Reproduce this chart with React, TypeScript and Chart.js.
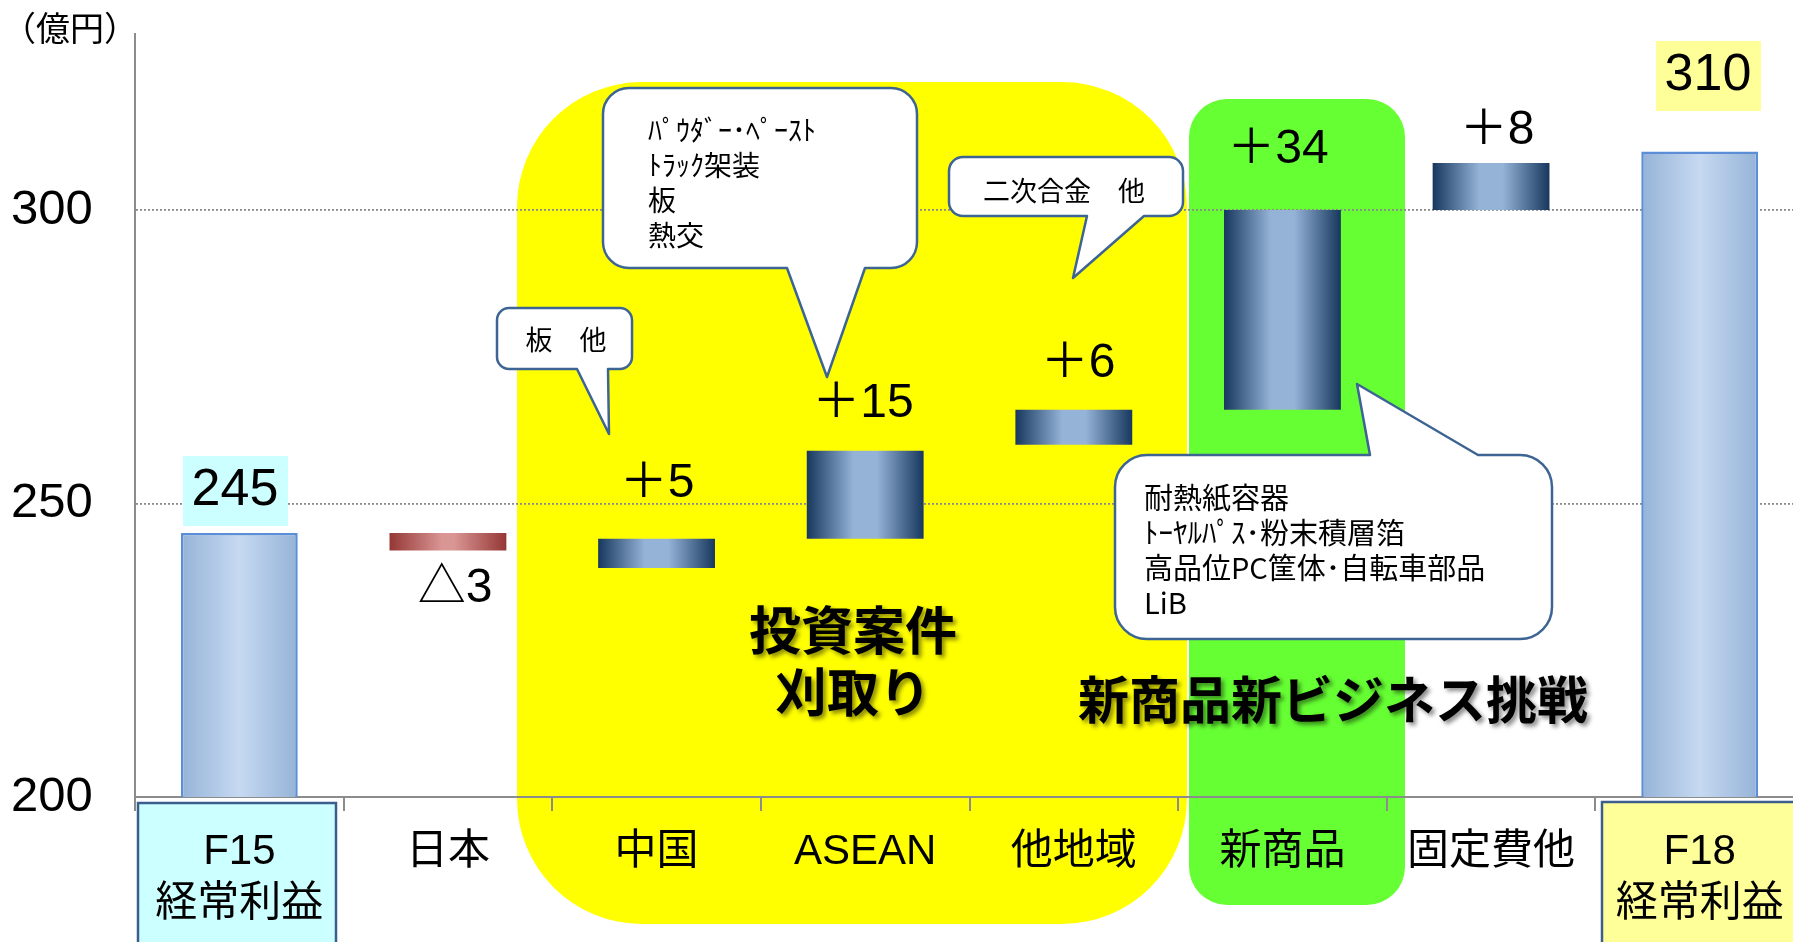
import React, { useEffect, useRef } from 'react';
import { Chart, registerables } from 'chart.js';

Chart.register(...registerables);

// ---------- data ----------
const categories: (string | string[])[] = [
  ['F15', '経常利益'], '日本', '中国', 'ASEAN', '他地域', '新商品', '固定費他', ['F18', '経常利益'],
];
const barStart = [0, 245, 239, 244, 260, 266, 300, 0];
const barEnd = [245, 242, 244, 259, 266, 300, 308, 310];
const barKind = ['total', 'down', 'up', 'up', 'up', 'up', 'up', 'total'];
const valueLabels = ['245', '△3', '＋5', '＋15', '＋6', '＋34', '＋8', '310'];
const yTickValues = [200, 250, 300];
const Y_MIN = 200;
const Y_MAX = 330;
const unitLabel = '（億円）';
const calloutChina = ['板　他'];
const calloutAsean = ['ﾊﾟｳﾀﾞｰ･ﾍﾟｰｽﾄ', 'ﾄﾗｯｸ架装', '板', '熱交'];
const calloutOther = ['二次合金　他'];
const calloutNew = ['耐熱紙容器', 'ﾄｰﾔﾙﾊﾟｽ･粉末積層箔', '高品位PC筐体･自転車部品', 'LiB'];
const investText = ['投資案件', '刈取り'];
const newBizText = ['新商品新ビジネス挑戦'];

// ---------- styling ----------
const FONT = '"Liberation Sans", "Noto Sans CJK JP", sans-serif';
const JFONT = '"Noto Sans CJK JP", "Liberation Sans", sans-serif';
const CANVAS_W = 1810;
const CANVAS_H = 942;

// design frame (chart area in design pixels) used to place PowerPoint-like overlays
const D = { L: 135, T: 34, R: 1804, B: 797 };

function mapper(chart: any) {
  const ca = chart.chartArea;
  const sx = (ca.right - ca.left) / (D.R - D.L);
  const sy = (ca.bottom - ca.top) / (D.B - D.T);
  return {
    X: (px: number) => ca.left + (px - D.L) * sx,
    Y: (py: number) => ca.top + (py - D.T) * sy,
  };
}

function roundRectPath(ctx: CanvasRenderingContext2D, x1: number, y1: number, x2: number, y2: number, r: number) {
  ctx.beginPath();
  ctx.moveTo(x1 + r, y1);
  ctx.lineTo(x2 - r, y1);
  ctx.arcTo(x2, y1, x2, y1 + r, r);
  ctx.lineTo(x2, y2 - r);
  ctx.arcTo(x2, y2, x2 - r, y2, r);
  ctx.lineTo(x1 + r, y2);
  ctx.arcTo(x1, y2, x1, y2 - r, r);
  ctx.lineTo(x1, y1 + r);
  ctx.arcTo(x1, y1, x1 + r, y1, r);
  ctx.closePath();
}

function drawCallout(
  ctx: CanvasRenderingContext2D, x1: number, y1: number, x2: number, y2: number, r: number,
  side: 'top' | 'bottom', b1: number, b2: number, tx: number, ty: number,
) {
  ctx.beginPath();
  ctx.moveTo(x1 + r, y1);
  if (side === 'top') { ctx.lineTo(b1, y1); ctx.lineTo(tx, ty); ctx.lineTo(b2, y1); }
  ctx.lineTo(x2 - r, y1);
  ctx.arcTo(x2, y1, x2, y1 + r, r);
  ctx.lineTo(x2, y2 - r);
  ctx.arcTo(x2, y2, x2 - r, y2, r);
  if (side === 'bottom') { ctx.lineTo(b2, y2); ctx.lineTo(tx, ty); ctx.lineTo(b1, y2); }
  ctx.lineTo(x1 + r, y2);
  ctx.arcTo(x1, y2, x1, y2 - r, r);
  ctx.lineTo(x1, y1 + r);
  ctx.arcTo(x1, y1, x1 + r, y1, r);
  ctx.closePath();
  ctx.fillStyle = '#ffffff';
  ctx.fill();
  ctx.lineWidth = 2.5;
  ctx.strokeStyle = '#3d6493';
  ctx.lineJoin = 'round';
  ctx.stroke();
}

function drawLines(ctx: CanvasRenderingContext2D, lines: string[], x: number, y0: number, step: number, font: string, align: CanvasTextAlign) {
  ctx.font = font;
  ctx.fillStyle = '#000';
  ctx.textAlign = align;
  ctx.textBaseline = 'middle';
  lines.forEach((t, i) => ctx.fillText(t, x, y0 + i * step));
}

const overlayPlugin = {
  id: 'overlay',
  beforeDraw(chart: any) {
    const ctx: CanvasRenderingContext2D = chart.ctx;
    const { X, Y } = mapper(chart);
    ctx.save();
    // background regions
    roundRectPath(ctx, X(517), Y(82), X(1187), Y(924), 125);
    ctx.fillStyle = '#ffff00';
    ctx.fill();
    roundRectPath(ctx, X(1189), Y(99), X(1405), Y(905), 38);
    ctx.fillStyle = '#66ff33';
    ctx.fill();
    // category label boxes of the totals
    ctx.lineWidth = 2.5;
    ctx.strokeStyle = '#3b5e8c';
    ctx.fillStyle = '#ccffff';
    ctx.fillRect(X(138), Y(803), X(336) - X(138), Y(960) - Y(803));
    ctx.strokeRect(X(138), Y(803), X(336) - X(138), Y(960) - Y(803));
    ctx.fillStyle = '#ffff99';
    ctx.fillRect(X(1602), Y(802), X(1808) - X(1602), Y(960) - Y(802));
    ctx.strokeRect(X(1602), Y(802), X(1808) - X(1602), Y(960) - Y(802));
    ctx.restore();
  },
  afterDraw(chart: any) {
    const ctx: CanvasRenderingContext2D = chart.ctx;
    const { X, Y } = mapper(chart);
    ctx.save();

    // unit label
    drawLines(ctx, [unitLabel], X(2), Y(28), 0, `34px ${JFONT}`, 'left');

    // callouts
    drawCallout(ctx, X(497), Y(308), X(632), Y(369), 12, 'bottom', X(577), X(608), X(609), Y(434));
    drawLines(ctx, calloutChina, X(566), Y(340), 35, `27px ${JFONT}`, 'center');

    drawCallout(ctx, X(603), Y(88), X(917), Y(268), 26, 'bottom', X(787), X(865), X(827), Y(377));
    drawLines(ctx, calloutAsean, X(648), Y(130), 35, `28px ${JFONT}`, 'left');

    drawCallout(ctx, X(949), Y(157), X(1183), Y(216), 14, 'bottom', X(1087), X(1144), X(1073), Y(278));
    drawLines(ctx, calloutOther, X(1064), Y(191), 35, `27px ${JFONT}`, 'center');

    drawCallout(ctx, X(1115), Y(455), X(1552), Y(639), 32, 'top', X(1370), X(1478), X(1357), Y(384));
    drawLines(ctx, calloutNew, X(1144), Y(498), 35, `29px ${JFONT}`, 'left');

    // value label boxes for totals
    ctx.fillStyle = '#ccffff';
    ctx.fillRect(X(183), Y(456), X(288) - X(183), Y(526) - Y(456));
    ctx.fillStyle = '#ffff99';
    ctx.fillRect(X(1656), Y(41), X(1761) - X(1656), Y(111) - Y(41));

    // value labels
    const labelPos: [number, number, number][] = [
      [235, 491, 52], [455, 589, 48], [657, 484, 48], [863, 404, 48],
      [1078, 364, 48], [1278, 150, 48], [1497, 131, 48], [1708, 76, 52],
    ];
    valueLabels.forEach((t, i) => {
      const [px, py, fs] = labelPos[i];
      drawLines(ctx, [t], X(px), Y(py), 0, `${fs}px ${FONT}`, 'center');
    });

    // region captions with soft shadow
    ctx.shadowColor = 'rgba(0,0,0,0.45)';
    ctx.shadowOffsetX = 3;
    ctx.shadowOffsetY = 3;
    ctx.shadowBlur = 4;
    drawLines(ctx, investText, X(853), Y(630), 62, `bold 52px ${JFONT}`, 'center');
    drawLines(ctx, newBizText, X(1333), Y(700), 0, `bold 51px ${JFONT}`, 'center');
    ctx.restore();
  },
};

function barGradient(c: any) {
  const chart = c.chart;
  const xs = chart.scales && chart.scales.x;
  const i = c.dataIndex;
  if (!xs || i === undefined || !chart.chartArea) return '#95b3d7';
  const cx = xs.getPixelForValue(i);
  const w = (xs.width / categories.length) * 0.56;
  const g = chart.ctx.createLinearGradient(cx - w / 2, 0, cx + w / 2, 0);
  const kind = barKind[i];
  if (kind === 'total') {
    g.addColorStop(0, '#95b3d7');
    g.addColorStop(0.5, '#c6d9f1');
    g.addColorStop(1, '#95b3d7');
  } else if (kind === 'down') {
    g.addColorStop(0, '#953735');
    g.addColorStop(0.45, '#d99694');
    g.addColorStop(0.55, '#d99694');
    g.addColorStop(1, '#953735');
  } else {
    g.addColorStop(0, '#17375e');
    g.addColorStop(0.4, '#95b3d7');
    g.addColorStop(0.6, '#95b3d7');
    g.addColorStop(1, '#17375e');
  }
  return g;
}

export default function App() {
  const ref = useRef<HTMLCanvasElement | null>(null);
  useEffect(() => {
    if (!ref.current) return;
    const chart = new Chart(ref.current, {
      type: 'bar',
      data: {
        labels: categories as any,
        datasets: [
          {
            data: categories.map((_, i) => [barStart[i], barEnd[i]]) as any,
            backgroundColor: barGradient as any,
            borderColor: barKind.map((k) => (k === 'total' ? '#5b8ed6' : 'rgba(0,0,0,0)')),
            borderWidth: barKind.map((k) => (k === 'total' ? 2.5 : 0)),
            borderSkipped: false,
            barPercentage: 0.56,
            categoryPercentage: 1,
          },
        ],
      },
      options: {
        animation: false,
        responsive: false,
        maintainAspectRatio: false,
        layout: { padding: { left: 11, top: 34, right: CANVAS_W - D.R, bottom: 0 } },
        plugins: { legend: { display: false }, tooltip: { enabled: false } },
        scales: {
          x: {
            offset: true,
            grid: {
              display: true, offset: true, drawOnChartArea: false, drawTicks: true,
              tickLength: 14, color: '#8c8c8c', lineWidth: 2,
            },
            border: { display: true, color: '#8c8c8c', width: 2 },
            ticks: {
              color: '#000', padding: 15, autoSkip: false, maxRotation: 0, minRotation: 0,
              font: { size: 42, family: FONT, lineHeight: 1.25 },
            },
            afterFit: (s: any) => { s.height = CANVAS_H - D.B; },
          },
          y: {
            min: Y_MIN,
            max: Y_MAX,
            afterBuildTicks: (s: any) => { s.ticks = yTickValues.map((v) => ({ value: v })); },
            grid: {
              color: (c: any) => (c.tick && c.tick.value === Y_MIN ? 'rgba(0,0,0,0)' : '#8a8a8a'),
              lineWidth: 1.8,
              drawTicks: false,
            },
            border: { display: true, color: '#8c8c8c', width: 2, dash: [2, 2] },
            ticks: { color: '#000', padding: 0, crossAlign: 'far', font: { size: 49, family: FONT } },
            afterFit: (s: any) => { s.width = D.L - 11; },
          },
        },
      } as any,
      plugins: [overlayPlugin],
    });
    return () => chart.destroy();
  }, []);

  return (
    <div style={{ position: 'fixed', left: 0, top: 0, width: 1793, height: 942, overflow: 'hidden', background: '#fff' }}>
      <canvas ref={ref} width={CANVAS_W} height={CANVAS_H} style={{ display: 'block', width: CANVAS_W, height: CANVAS_H }} />
    </div>
  );
}
